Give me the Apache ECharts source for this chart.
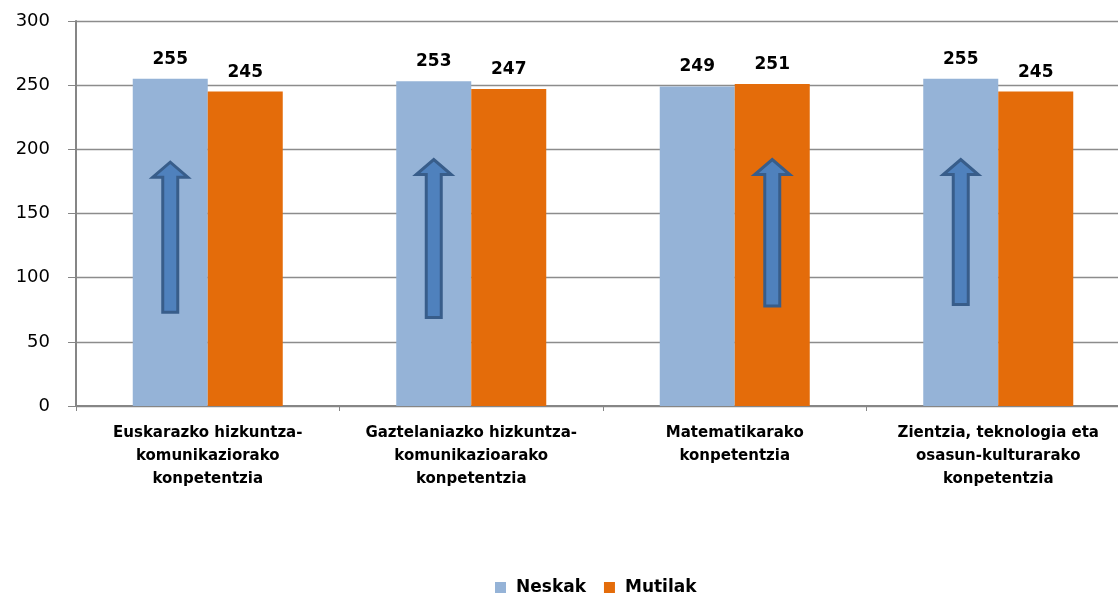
<!DOCTYPE html>
<html>
<head>
<meta charset="utf-8">
<script src="https://cdn.jsdelivr.net/npm/echarts@6/dist/echarts.min.js"></script>
<style>
	html, body { margin: 0; padding: 0; background: #fff; }
	#chart { width: 1118px; height: 593px; }
</style>
</head>
<body>
<div id="chart"></div>
<script>
const categories = [
	'Euskarazko hizkuntza-\nkomunikaziorako\nkonpetentzia',
	'Gaztelaniazko hizkuntza-\nkomunikazioarako\nkonpetentzia',
	'Matematikarako\nkonpetentzia',
	'Zientzia, teknologia eta\nosasun-kulturarako\nkonpetentzia',
]
const neskak = [255, 253, 249, 255]
const mutilak = [245, 247, 251, 245]

// arrows drawn over one bar of each group (0 = Neskak, 1 = Mutilak)
const arrowBar = [0, 0, 1, 0]
const arrowFrom = [73, 69, 78, 79]
const arrowTo = [190, 192, 192, 192]

const barW = 75

const chart = echarts.init(document.getElementById('chart'))

const renderArrow = (params, api) => {
	const c = api.value(0)
	const side = api.value(1)
	const bottom = api.coord([c, api.value(2)])
	const top = api.coord([c, api.value(3)])
	const x = bottom[0] + (side === 0 ? -1 : 1) * barW / 2
	const hw = 7.5, hh = 17.5, head = 15
	const yb = bottom[1], yt = top[1]
	return {
		type: 'polygon',
		shape: {
			points: [
				[x - hw, yb], [x - hw, yt + head], [x - hh, yt + head], [x, yt],
				[x + hh, yt + head], [x + hw, yt + head], [x + hw, yb],
			],
		},
		style: { fill: '#4F81BD', stroke: '#385D8A', lineWidth: 3 },
	}
}

const option = {
	animation: false,
	grid: { left: 76, right: -12, top: 21, bottom: 187, outerBoundsMode: 'none' },
	legend: {
		data: ['Neskak', 'Mutilak'],
		left: 490,
		top: 574,
		icon: 'rect',
		itemWidth: 11,
		itemHeight: 11,
		itemGap: 18,
		textStyle: {
			fontFamily: 'DejaVu Sans', fontWeight: 'bold', fontSize: 17, color: '#000',
			padding: [0, 0, 0, 5],
		},
	},
	xAxis: {
		type: 'category',
		data: categories,
		axisLine: { lineStyle: { color: '#868686', width: 2 } },
		axisTick: { show: true, length: 5, lineStyle: { color: '#868686' } },
		axisLabel: {
			interval: 0,
			margin: 16,
			lineHeight: 23,
			color: '#000',
			fontFamily: 'DejaVu Sans',
			fontWeight: 'bold',
			fontSize: 15,
		},
	},
	yAxis: {
		type: 'value',
		min: 0,
		max: 300,
		interval: 50,
		axisLine: { show: true, lineStyle: { color: '#868686', width: 2 } },
		axisTick: { show: true, length: 8, lineStyle: { color: '#868686' } },
		axisLabel: { margin: 26, color: '#000', fontFamily: 'DejaVu Sans', fontSize: 18 },
		splitLine: { lineStyle: { color: '#8c8c8c', width: 1.3 } },
	},
	series: [
		{
			name: 'Neskak',
			type: 'bar',
			data: neskak,
			barWidth: barW,
			barGap: '0%',
			itemStyle: { color: '#95B3D7' },
			label: {
				show: true, position: 'top', distance: 11,
				color: '#000', fontFamily: 'DejaVu Sans', fontWeight: 'bold', fontSize: 17,
			},
		},
		{
			name: 'Mutilak',
			type: 'bar',
			data: mutilak,
			barWidth: barW,
			barGap: '0%',
			itemStyle: { color: '#E46C0A' },
			label: {
				show: true, position: 'top', distance: 11,
				color: '#000', fontFamily: 'DejaVu Sans', fontWeight: 'bold', fontSize: 17,
			},
		},
		{
			type: 'custom',
			renderItem: renderArrow,
			encode: { x: 0, y: [2, 3] },
			data: arrowBar.map((b, i) => [i, b, arrowFrom[i], arrowTo[i]]),
			z: 5,
		},
	],
}
chart.setOption(option)
</script>
</body>
</html>
